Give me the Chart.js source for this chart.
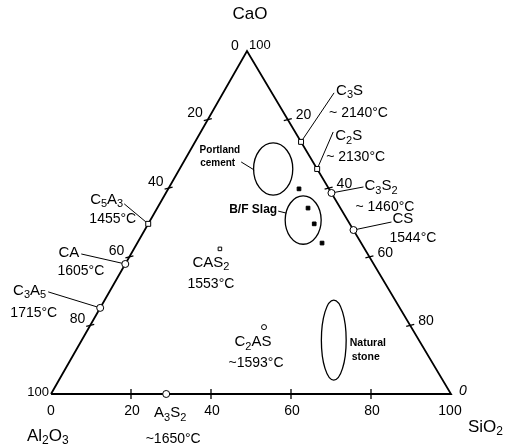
<!DOCTYPE html>
<html>
<head>
<meta charset="utf-8">
<script src="https://cdn.jsdelivr.net/npm/chart.js@4/dist/chart.umd.min.js"></script>
<style>
  html, body { margin: 0; padding: 0; background: #fff; }
  #wrap { width: 516px; height: 445px; }
</style>
</head>
<body>
<div id="wrap"><canvas id="tern" width="516" height="445"></canvas></div>
<script>
// ---- data (compositions in wt%) ----
const edgeTicks = [20, 40, 60, 80];

const compounds = ['C_3S', 'C_2S', 'C_3S_2', 'CS', 'C_5A_3', 'CA', 'C_3A_5', 'A_3S_2', 'CAS_2', 'C_2AS'];
const compCaO   = [73.5, 65.6, 58.6, 47.8, 49.6, 37.9, 25.1, 0, 42.3, 19.5];
const compSiO2  = [26.5, 34.4, 41.4, 52.2, 0, 0, 0, 28.8, 21.5, 43.7];
const compTemp  = ['~ 2140°C', '~ 2130°C', '~ 1460°C', '1544°C', '1455°C', '1605°C', '1715°C', '~1650°C', '1553°C', '~1593°C'];

const slagCaO  = [59.8, 54.2, 49.6, 44.0];
const slagSiO2 = [32.7, 37.7, 41.5, 46.2];

const zoneNames = [['Portland', 'cement'], ['B/F Slag'], ['Natural', 'stone']];
const zoneCaO   = [65.6, 50.7, 15.7];
const zoneSiO2  = [23.4, 38.2, 63.0];

// ---- ternary -> cartesian ----
function tern(cao, sio2) {
  return { x: sio2 + cao * 0.49, y: cao * 0.866 };
}

// ---- layout / styles ----
const FONT = '"Liberation Sans", Arial, sans-serif';
const markerStyle = ['rect', 'rect', 'circle', 'circle', 'rect', 'circle', 'circle', 'circle', 'rect', 'circle'];
const markerSize  = [3.5, 3.5, 3.5, 3.5, 3.5, 3.5, 3.5, 3.5, 2.5, 2.5];
// leader end / name / temperature offsets from the point, in px
const compLayout = [
  { lead: [33, -49], name: [35, -51, 'left'],  temp: [28, -29, 'left'] },
  { lead: [16, -37], name: [18, -33, 'left'],  temp: [9, -12, 'left'] },
  { lead: [32, -6],  name: [33, -7, 'left'],   temp: [24, 14, 'left'] },
  { lead: [38, -8],  name: [39, -11, 'left'],  temp: [36, 8, 'left'] },
  { lead: [-24, -20], name: [-25, -24, 'right'], temp: [-12, -5, 'right'] },
  { lead: [-44, -10], name: [-46, -11, 'right'], temp: [-21, 7, 'right'] },
  { lead: [-52, -16], name: [-54, -17, 'right'], temp: [-43, 5, 'right'] },
  { lead: null, name: [4, 19, 'center'],  temp: [7, 45, 'center'] },
  { lead: null, name: [-9, 14, 'center'], temp: [-9, 35, 'center'] },
  { lead: null, name: [-11, 15, 'center'], temp: [-8, 36, 'center'] }
];
const zoneRadii = [[4.9, 6.6], [4.5, 6.1], [3.1, 10.1]];
const zoneLayout = [
  { font: 'bold 10px ', text: [[-33, -19, 'right'], [-38, -6, 'right']], lead: [[-32, -7], [-19, 1]] },
  { font: 'bold 12px ', text: [[-26, -10, 'right']], lead: [[-25, -9], [-17, -7]] },
  { font: 'bold 10.5px ', text: [[16, 3, 'left'], [18, 17, 'left']], lead: null }
];

// draw text with "_x" subscripts
function richText(ctx, str, x, y, align, size) {
  const parts = [];
  for (let i = 0; i < str.length; i++) {
    if (str[i] === '_' && i + 1 < str.length) { parts.push({ t: str[i + 1], sub: true }); i++; }
    else parts.push({ t: str[i], sub: false });
  }
  const subSize = Math.round(size * 0.72);
  let w = 0;
  parts.forEach(p => {
    ctx.font = (p.sub ? subSize : size) + 'px ' + FONT;
    p.w = ctx.measureText(p.t).width;
    w += p.w;
  });
  let cx = align === 'right' ? x - w : align === 'center' ? x - w / 2 : x;
  ctx.textAlign = 'left';
  ctx.textBaseline = 'middle';
  parts.forEach(p => {
    ctx.font = (p.sub ? subSize : size) + 'px ' + FONT;
    ctx.fillText(p.t, cx, p.sub ? y + size * 0.3 : y);
    cx += p.w;
  });
}

const decor = {
  id: 'decor',
  beforeDatasetsDraw(chart) {
    const { ctx, scales: { x, y } } = chart;
    ctx.save();
    ctx.strokeStyle = '#000';
    ctx.lineWidth = 1;
    // leader lines for compounds
    compounds.forEach((c, i) => {
      const L = compLayout[i];
      if (!L.lead) return;
      const p = tern(compCaO[i], compSiO2[i]);
      const px = x.getPixelForValue(p.x), py = y.getPixelForValue(p.y);
      ctx.beginPath();
      ctx.moveTo(px, py);
      ctx.lineTo(px + L.lead[0], py + L.lead[1]);
      ctx.stroke();
    });
    // ellipses
    zoneNames.forEach((z, i) => {
      const c = tern(zoneCaO[i], zoneSiO2[i]);
      const cx = x.getPixelForValue(c.x), cy = y.getPixelForValue(c.y);
      const rx = Math.abs(x.getPixelForValue(c.x + zoneRadii[i][0]) - cx);
      const ry = Math.abs(y.getPixelForValue(c.y + zoneRadii[i][1]) - cy);
      ctx.lineWidth = 1.3;
      ctx.beginPath();
      ctx.ellipse(cx, cy, rx, ry, 0, 0, Math.PI * 2);
      ctx.stroke();
      const ZL = zoneLayout[i];
      if (ZL.lead) {
        ctx.lineWidth = 1;
        ctx.beginPath();
        ctx.moveTo(cx + ZL.lead[0][0], cy + ZL.lead[0][1]);
        ctx.lineTo(cx + ZL.lead[1][0], cy + ZL.lead[1][1]);
        ctx.stroke();
      }
      ctx.fillStyle = '#000';
      ctx.textBaseline = 'middle';
      z.forEach((line, k) => {
        const t = ZL.text[k];
        ctx.font = ZL.font + FONT;
        ctx.textAlign = t[2];
        ctx.fillText(line, cx + t[0], cy + t[1]);
      });
    });
    ctx.restore();
  },
  afterDatasetsDraw(chart) {
    const { ctx, scales: { x, y } } = chart;
    const P = (cao, sio2) => { const q = tern(cao, sio2); return [x.getPixelForValue(q.x), y.getPixelForValue(q.y)]; };
    ctx.save();
    ctx.strokeStyle = '#000';
    ctx.fillStyle = '#000';
    ctx.lineWidth = 1.3;
    ctx.textBaseline = 'middle';
    edgeTicks.forEach(v => {
      // left edge: Al2O3 % from apex
      let [px, py] = P(100 - v, 0);
      ctx.beginPath(); ctx.moveTo(px - 4, py + 1); ctx.lineTo(px + 4, py - 1); ctx.stroke();
      ctx.font = '14px ' + FONT; ctx.textAlign = 'right';
      ctx.fillText(String(v), px - 5, py - 6);
      // right edge
      [px, py] = P(100 - v, v);
      ctx.beginPath(); ctx.moveTo(px - 4, py + 1); ctx.lineTo(px + 4, py - 1); ctx.stroke();
      ctx.textAlign = 'left';
      ctx.fillText(String(v), px + 8, py - 4);
      // bottom edge
      [px, py] = P(0, v);
      ctx.beginPath(); ctx.moveTo(px, py - 5); ctx.lineTo(px, py + 5); ctx.stroke();
      ctx.textAlign = 'center';
      ctx.fillText(String(v), px + 1, py + 17);
    });
    // vertex numbers
    const [ax, ay] = P(100, 0), [lx, ly] = P(0, 0), [rx, ry] = P(0, 100);
    ctx.font = '14px ' + FONT;
    ctx.textAlign = 'center'; ctx.fillText('0', ax - 12, ay - 5);
    ctx.font = '13px ' + FONT;
    ctx.textAlign = 'left'; ctx.fillText('100', ax + 2, ay - 6);
    ctx.textAlign = 'right'; ctx.fillText('100', lx - 2, ly - 2);
    ctx.font = '14px ' + FONT;
    ctx.textAlign = 'center'; ctx.fillText('0', lx, ly + 17);
    ctx.textAlign = 'center'; ctx.fillText('100', rx - 1, ry + 17);
    ctx.font = 'italic 14px ' + FONT;
    ctx.textAlign = 'left'; ctx.fillText('0', rx + 8, ry - 3);
    // vertex names
    richText(ctx, 'CaO', ax + 3, ay - 37, 'center', 17);
    richText(ctx, 'Al_2O_3', lx - 24, ly + 42, 'left', 17);
    richText(ctx, 'SiO_2', rx + 17, ry + 33, 'left', 17);
    // compound labels
    compounds.forEach((c, i) => {
      const L = compLayout[i];
      const [px, py] = P(compCaO[i], compSiO2[i]);
      richText(ctx, c, px + L.name[0], py + L.name[1], L.name[2], 15);
      ctx.font = '14px ' + FONT;
      ctx.textAlign = L.temp[2];
      ctx.fillText(compTemp[i], px + L.temp[0], py + L.temp[1]);
    });
    ctx.restore();
  }
};

const outline = [tern(0, 0), tern(100, 0), tern(0, 100), tern(0, 0)];

new Chart(document.getElementById('tern'), {
  type: 'scatter',
  data: {
    datasets: [
      {
        data: outline,
        showLine: true,
        borderColor: '#000',
        borderWidth: 1.8,
        pointRadius: 0,
        fill: false,
        order: 3
      },
      {
        data: compounds.map((c, i) => tern(compCaO[i], compSiO2[i])),
        pointStyle: markerStyle,
        pointRadius: markerSize,
        backgroundColor: '#fff',
        borderColor: '#000',
        borderWidth: 1,
        order: 1
      },
      {
        data: slagCaO.map((v, i) => tern(v, slagSiO2[i])),
        pointStyle: 'rect',
        pointRadius: 2.6,
        backgroundColor: '#000',
        borderColor: '#000',
        borderWidth: 1,
        order: 2
      }
    ]
  },
  options: {
    responsive: false,
    animation: false,
    layout: { padding: 0, autoPadding: false },
    plugins: { legend: { display: false }, tooltip: { enabled: false } },
    scales: {
      x: { type: 'linear', display: false, min: -12.75, max: 116.25 },
      y: { type: 'linear', display: false, min: -12.88, max: 99.47 }
    }
  },
  plugins: [decor]
});
</script>
</body>
</html>
